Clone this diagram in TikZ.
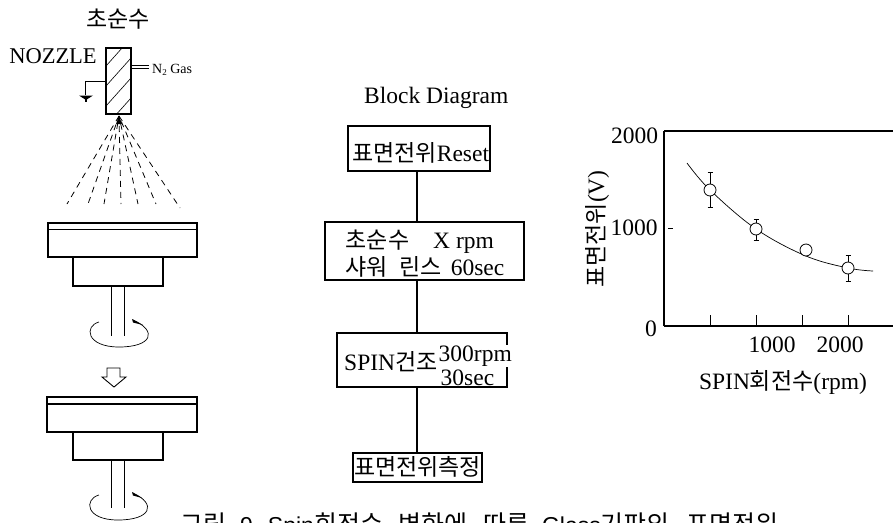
\documentclass[tikz,border=0pt]{standalone}
\usepackage{fontspec}
\setmainfont{Liberation Serif}
\newfontfamily\kr{Noto Sans CJK KR}
\newfontfamily\capfont{Liberation Sans}
\usetikzlibrary{arrows.meta}
\newcommand{\kt}[1]{{\kr\fontsize{23}{26}\selectfont #1}}
\newcommand{\kc}[1]{{\kr\fontsize{25}{26}\selectfont #1}}
\tikzset{
  x=1pt,y=-1pt,
  part/.style={draw,line width=1.5pt,fill=white,inner sep=0pt},
  flowbox/.style={draw,line width=1.2pt,inner sep=0pt},
  link/.style={line width=1.4pt},
  spray/.style={line width=0.8pt,dash pattern=on 6pt off 5pt},
  lab/.style={inner sep=0pt,font=\fontsize{23.5}{26}\selectfont},
  shaftl/.style={line width=1.4pt},
  spinl/.style={line width=0.7pt},
  dotn/.style={circle,draw,line width=0.8pt,fill=white,minimum size=12pt,inner sep=0pt},
  err/.style={line width=0.8pt}
}
\begin{document}
\begin{tikzpicture}
\useasboundingbox (0,0) rectangle (893,522);
\clip (0,0) rectangle (893,522);
% nozzle
\node[lab] (top) at (118,19.5) {\kt{초순수}};
\node[lab,font=\fontsize{22.5}{26}\selectfont] (noz) at (53,56) {NOZZLE};
\begin{scope}
\clip (106,48) rectangle (131,114);
\foreach \d in {0,20,40,60,80,100}
  \draw[line width=0.6pt] (106,{46+\d}) -- (131,{18+\d});
\end{scope}
\node[draw,line width=1.3pt,minimum width=25pt,minimum height=66pt,inner sep=0pt] (nozzle) at (118.5,81) {};
\node[inner sep=0pt,font=\fontsize{14}{14}\selectfont,anchor=base west] (gas) at (152,73) {N\raisebox{-2pt}{\fontsize{9}{9}\selectfont 2} Gas};
\draw[line width=0.8pt] (131,65) -- (149,65) (131,68.5) -- (149,68.5);
\coordinate (gnd) at (85.5,95);
\draw[line width=1pt] (nozzle.west |- 0,81) -| (gnd);
\fill (79,95.5) -- (93,95.5) -- (86,100) -- cycle;
\draw[line width=1.2pt] (86,99) -- (86,102);
% spray
\coordinate (sp) at (119,116);
\fill (119,116) -- (116,124) -- (122,124) -- cycle;
\coordinate (e1) at (67,204);\coordinate (e2) at (88,204);\coordinate (e3) at (104,204);\coordinate (e4) at (121,204);\coordinate (e5) at (138,204);\coordinate (e6) at (156,204);\coordinate (e7) at (180,208);
\foreach \n/\o in {1/0,2/2,3/4,4/1,5/3,6/5,7/0}
  \draw[spray,dash phase=\o pt] (sp) -- (e\n);
% stage 1
\node[part,minimum width=149pt,minimum height=34pt] (w1) at (122.5,240) {};
\draw[line width=1.2pt] (w1.west |- 0,229.5) -- (w1.east |- 0,229.5);
\node[part,minimum width=90pt,minimum height=29pt] (b1) at (118,271.5) {};
\path (b1.south) ++(-6.5,0) coordinate (s1a) ++(13,0) coordinate (s1b);
\coordinate (s1c) at (111.5,336);\coordinate (s1d) at (124.5,336);
\draw[shaftl] (s1a) -- (s1c) (s1b) -- (s1d);
\draw[spinl] (99,322) .. controls (84,326) and (86,347) .. (119,347) .. controls (152,347) and (158,331) .. (133,320);
\fill (132,319) -- (143,325) -- (133,322.5) -- cycle;
% hollow arrow
\draw[line width=0.9pt] (107,368) -- (107,377) -- (102,377) -- (114,387) -- (126,377) -- (120,377) -- (120,368) -- cycle;
% stage 2
\node[part,minimum width=150pt,minimum height=35pt] (w2) at (122,414.5) {};
\draw[line width=1.2pt] (w2.west |- 0,404) -- (w2.east |- 0,404);
\node[part,minimum width=90pt,minimum height=28pt] (b2) at (118,446) {};
\path (b2.south) ++(-6.5,0) coordinate (s2a) ++(13,0) coordinate (s2b);
\coordinate (s2c) at (111.5,508);\coordinate (s2d) at (124.5,508);
\draw[shaftl] (s2a) -- (s2c) (s2b) -- (s2d);
\draw[spinl] (99,495) .. controls (84,499) and (85,520) .. (118,520) .. controls (151,520) and (157,504) .. (133,493);
\fill (132,492) -- (142,498) -- (133,495.5) -- cycle;
% block diagram
\node[lab,anchor=base west] (bd) at (364,103) {Block Diagram};
\coordinate (sx) at (417,0);
\node[flowbox,minimum width=142pt,minimum height=45pt] (f1) at (419,148.5) {};
\node[lab,anchor=base west] (t1) at (352,161) {\kt{표면전위}Reset};
\node[flowbox,minimum width=199pt,minimum height=58pt] (f2) at (424.5,251) {};
\node[lab,anchor=base] (t2a) at (377.5,248) {\kt{초순수}};
\node[lab,anchor=base west] (t2b) at (433,248) {X rpm};
\node[lab,anchor=base west] (t2c) at (345,275) {\kt{샤워}\hspace{12pt}\kt{린스}\hspace{9pt}60sec};
\node[flowbox,minimum width=170pt,minimum height=54pt] (f3) at (422,360) {};
\node[lab,anchor=base west] (t3a) at (344,370) {SPIN\kt{건조}};
\node[lab,anchor=base west,fill=white,inner sep=0.5pt] (t3b) at (438,361) {300rpm};
\node[lab,anchor=base west,fill=white,inner sep=0.5pt] (t3c) at (440,385) {30sec};
\node[flowbox,minimum width=129pt,minimum height=29pt] (f4) at (417.5,467.5) {};
\node[lab,anchor=center] (t4) at (417.5,467) {\kt{표면전위측정}};
\draw[link] (f1.south -| sx) -- (f2.north -| sx);
\draw[link] (f2.south -| sx) -- (f3.north -| sx);
\draw[link] (f3.south -| sx) -- (f4.north -| sx);
% graph
\coordinate (o) at (664,326);\coordinate (tl) at (664,131);\coordinate (br) at (893,326);\coordinate (tr) at (893,131);
\draw[line width=1.8pt] (o) -- (tl);
\draw[line width=1.4pt] (tl) -- (tr) (o) -- (br);
\foreach \x in {710,756,802,848} \draw[line width=0.8pt] (\x,315) -- (\x,326);
\draw[line width=0.8pt] (668,228) -- (673,228);
\node[lab] (y2) at (634.5,136) {2000};
\node[lab] (y1) at (634,228) {1000};
\node[lab] (y0) at (651,329) {0};
\node[lab] (x1) at (772,345) {1000};
\node[lab] (x2) at (840,345) {2000};
\node[lab] (xt) at (783,382) {SPIN\kt{회전수}(rpm)};
\node[lab,rotate=90] (yt) at (597,229) {\kt{표면전위}(V)};
\draw[line width=0.7pt] plot[smooth,tension=0.6] coordinates {(687,163) (710,190) (756,229) (806,256) (848,268) (873,271)};
\draw[err] (710,172) -- (710,207) (707.5,172) -- (712.5,172) (707.5,207) -- (712.5,207);
\draw[err] (756,219) -- (756,240) (753.5,219) -- (758.5,219) (753.5,240) -- (758.5,240);
\draw[err] (848,255) -- (848,281) (845.5,255) -- (850.5,255) (845.5,281) -- (850.5,281);
\node[dotn] (p1) at (710,190) {};
\node[dotn] (p2) at (756,229) {};
\node[dotn] (p3) at (806,250) {};
\node[dotn] (p4) at (848,268) {};
% caption
\node[inner sep=0pt,anchor=base west,font=\capfont\fontsize{23}{26}\selectfont] (cap) at (180,533) {\kc{그림}\hspace{14pt}9\hspace{15pt}Spin\kc{회전수}\hspace{15pt}\kc{변화에}\hspace{16pt}\kc{따른}\hspace{13pt}Glass\kc{기판의}\hspace{17pt}\kc{표면전위}};
\end{tikzpicture}
\end{document}
